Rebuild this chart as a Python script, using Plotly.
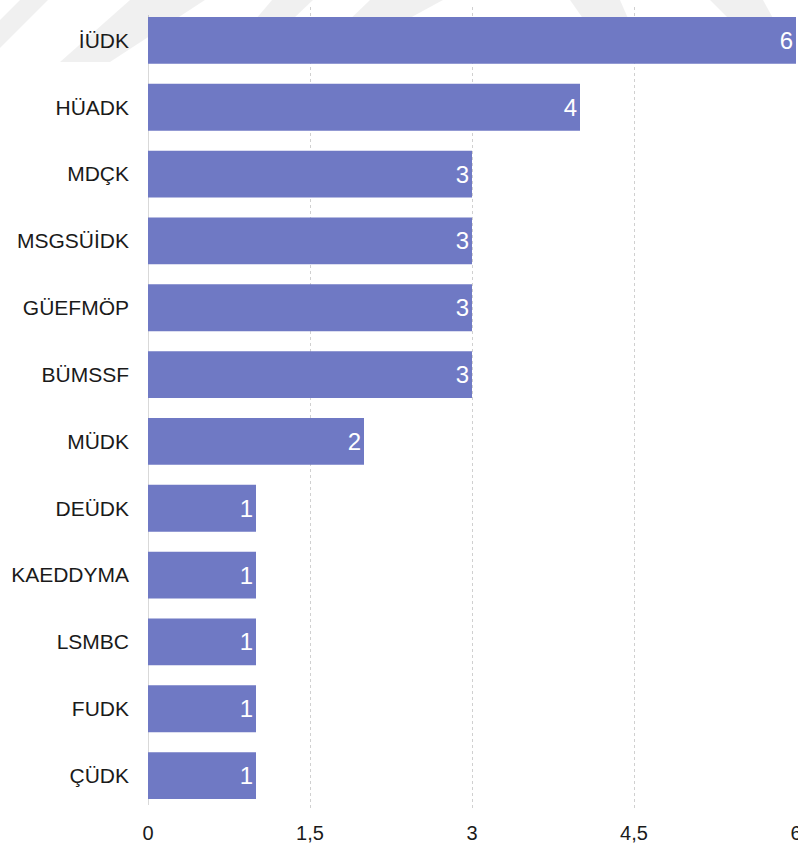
import plotly.graph_objects as go

# Number of items per unit
units = ["İÜDK", "HÜADK", "MDÇK", "MSGSÜİDK", "GÜEFMÖP", "BÜMSSF",
         "MÜDK", "DEÜDK", "KAEDDYMA", "LSMBC", "FUDK", "ÇÜDK"]
counts = [6, 4, 3, 3, 3, 3, 2, 1, 1, 1, 1, 1]

tick_vals = [0, 1.5, 3, 4.5, 6]
tick_text = ["0", "1,5", "3", "4,5", "6"]

bar_color = "#6f79c4"
font_family = "Liberation Sans, Arial, sans-serif"

W, H = 798, 844
M_L, M_R, M_T, M_B = 148, 2, 7, 35
PW, PH = W - M_L - M_R, H - M_T - M_B


def to_paper(pts):
    """Convert page pixel points to paper coordinates and build an SVG path."""
    coords = [((px - M_L) / PW, (H - M_B - py) / PH) for px, py in pts]
    return "M " + " L ".join(f"{x:.4f},{y:.4f}" for x, y in coords) + " Z"


# Faint diagonal watermark bands across the top of the page
watermark_bands = [
    [(0, 20), (20, 0), (48, 0), (0, 48)],
    [(60, 62), (110, 62), (205, 0), (130, 0)],
    [(255, 20), (272, 0), (313, 0), (292, 20)],
    [(320, 48), (355, 48), (443, 0), (370, 0)],
    [(570, 0), (620, 0), (642, 50), (605, 50)],
    [(710, 0), (763, 0), (785, 40), (750, 40)],
]

shapes = [
    dict(type="line", xref="x", yref="paper", x0=0, x1=0, y0=0.005, y1=0.99,
         line=dict(color="#cccccc", width=1.5), layer="below"),
]
for band in watermark_bands:
    shapes.append(dict(type="path", xref="paper", yref="paper", path=to_paper(band),
                       fillcolor="rgba(0,0,0,0.06)", line=dict(width=0), layer="below"))

fig = go.Figure(
    go.Bar(
        x=counts,
        y=units,
        orientation="h",
        marker=dict(color=bar_color, line=dict(width=0)),
        width=0.7,
        text=[str(c) for c in counts],
        textposition="inside",
        insidetextanchor="end",
        textfont=dict(color="white", size=24, family=font_family),
        cliponaxis=False,
    )
)

fig.update_layout(
    width=W,
    height=H,
    margin=dict(l=M_L, r=M_R, t=M_T, b=M_B),
    paper_bgcolor="white",
    plot_bgcolor="white",
    showlegend=False,
    font=dict(family=font_family, color="#1a1a1a", size=20),
    xaxis=dict(
        range=[0, 6],
        tickvals=tick_vals,
        ticktext=tick_text,
        showgrid=True,
        gridcolor="#d0d0d0",
        griddash="dot",
        gridwidth=1,
        zeroline=False,
        showline=False,
        ticks="",
        ticklabelstandoff=10,
        ticklabeloverflow="allow",
        tickfont=dict(size=20, color="#1a1a1a"),
        automargin=False,
    ),
    yaxis=dict(
        categoryorder="array",
        categoryarray=units[::-1],
        showgrid=False,
        zeroline=False,
        showline=False,
        ticks="",
        ticklabelstandoff=18,
        tickfont=dict(size=21, color="#1a1a1a"),
        automargin=False,
    ),
    shapes=shapes,
)

fig.write_html("out.html")
